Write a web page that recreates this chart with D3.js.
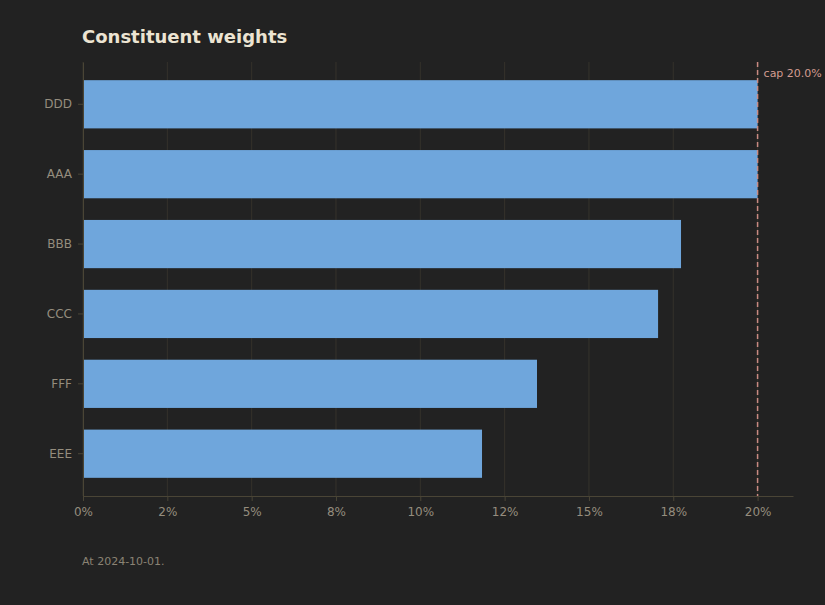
<!DOCTYPE html>
<html>
<head>
<meta charset="utf-8">
<script src="https://cdn.jsdelivr.net/npm/d3@7"></script>
<style>
  body { margin: 0; background: #222222; }
  svg { display: block; font-family: "DejaVu Sans", sans-serif; }
  .axis path, .axis line { stroke: #4a4536; }
  .axis text { fill: #958d7e; font-size: 12px; font-family: "DejaVu Sans", sans-serif; }
  .grid line { stroke: #35322b; }
</style>
</head>
<body>
<div id="chart"></div>
<script>
// data
let names = ["DDD", "AAA", "BBB", "CCC", "FFF", "EEE"];
let weights = [0.200, 0.200, 0.1773, 0.1705, 0.1346, 0.1183];
let tickValues = [0, 0.025, 0.05, 0.075, 0.10, 0.125, 0.15, 0.175, 0.20];
let tickLabels = ["0%", "2%", "5%", "8%", "10%", "12%", "15%", "18%", "20%"];
let cap = 0.20;

let margin = { top: 62, right: 32, bottom: 109, left: 83 };
let width = 825 - margin.left - margin.right,
    height = 605 - margin.top - margin.bottom;

let svgRoot = d3.select("#chart").append("svg")
    .attr("width", 825)
    .attr("height", 605);

svgRoot.append("rect")
    .attr("width", 825).attr("height", 605)
    .attr("fill", "#222222");

let svg = svgRoot.append("g")
    .attr("transform", "translate(" + margin.left + "," + margin.top + ")");

// scales
let x = d3.scaleLinear()
    .domain([0, 0.2105])
    .range([0, width]);

let y = d3.scaleBand()
    .domain(names)
    .range([0, height])
    .paddingInner(0.31)
    .paddingOuter(0.26);

// gridlines
svg.append("g")
    .attr("class", "grid")
    .selectAll("line")
    .data(tickValues)
    .enter()
    .append("line")
    .attr("x1", d => x(d))
    .attr("x2", d => x(d))
    .attr("y1", 0)
    .attr("y2", height);

// bars
svg.append("g")
    .selectAll("rect")
    .data(names)
    .enter()
    .append("rect")
    .attr("x", x(0) + 1)
    .attr("y", d => y(d))
    .attr("width", (d, i) => x(weights[i]) - x(0) - 1)
    .attr("height", y.bandwidth())
    .attr("fill", "#6fa6dc");

// axes
let xAxis = d3.axisBottom(x)
    .tickValues(tickValues)
    .tickFormat((d, i) => tickLabels[i])
    .tickSize(5)
    .tickSizeOuter(0)
    .tickPadding(6);

let yAxis = d3.axisLeft(y)
    .tickSize(5)
    .tickSizeOuter(0)
    .tickPadding(6);

svg.append("g")
    .attr("class", "x-axis axis")
    .attr("transform", "translate(0," + height + ")")
    .call(xAxis);

svg.append("g")
    .attr("class", "y-axis axis")
    .call(yAxis);

// cap line
svg.append("line")
    .attr("x1", x(cap))
    .attr("x2", x(cap))
    .attr("y1", 0)
    .attr("y2", height)
    .attr("stroke", "#c98a82")
    .attr("stroke-width", 1.5)
    .attr("stroke-dasharray", "5,3");

svg.append("text")
    .attr("x", x(cap) + 6)
    .attr("y", 15)
    .attr("fill", "#d39c91")
    .attr("font-size", "11px")
    .text("cap " + (cap * 100).toFixed(1) + "%");

// title + caption
svgRoot.append("text")
    .attr("x", 82)
    .attr("y", 43)
    .attr("fill", "#ece4d2")
    .attr("font-size", "18px")
    .attr("font-weight", "bold")
    .text("Constituent weights");

svgRoot.append("text")
    .attr("x", 82)
    .attr("y", 565)
    .attr("fill", "#8a8374")
    .attr("font-size", "11px")
    .text("At 2024-10-01.");
</script>
</body>
</html>
